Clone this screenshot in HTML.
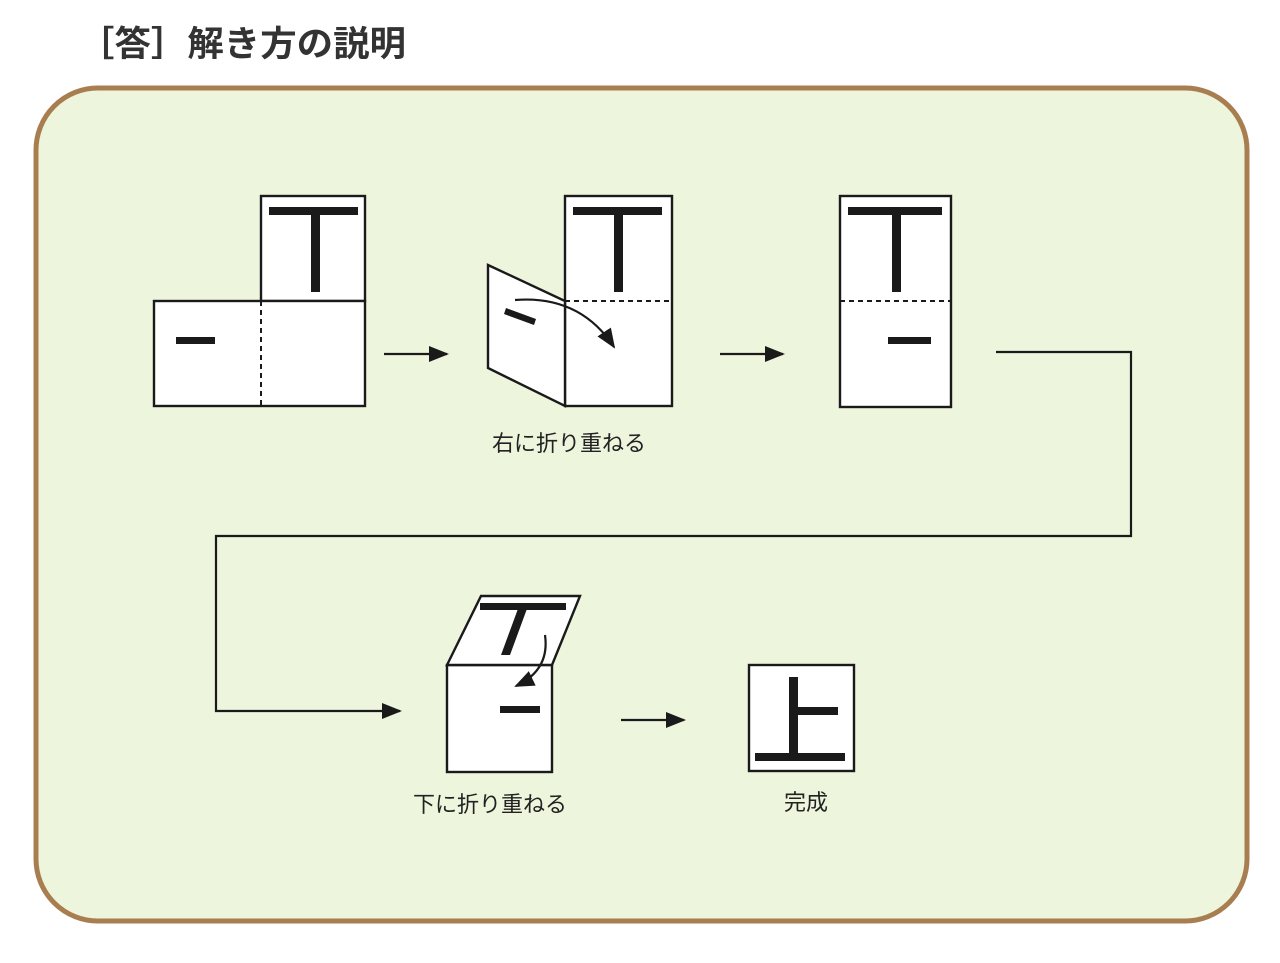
<!DOCTYPE html>
<html><head><meta charset="utf-8"><style>
html,body{margin:0;padding:0;background:#fff;}
svg{display:block}
text{font-family:"Liberation Sans","Noto Sans CJK JP",sans-serif;}
</style></head><body>
<svg width="1280" height="963" viewBox="0 0 1280 963" xmlns="http://www.w3.org/2000/svg">
<defs>
<marker id="ah2" markerWidth="20" markerHeight="20" refX="18" refY="10" orient="auto" markerUnits="userSpaceOnUse" viewBox="0 0 20 20">
<path d="M0,2 L20,10 L0,18 z" fill="#1a1a1a"/></marker>
</defs>
<text x="78" y="56" font-size="35" font-weight="bold" fill="#333" textLength="328" lengthAdjust="spacingAndGlyphs">［答］解き方の説明</text>
<rect x="36" y="88" width="1211" height="833" rx="62" fill="#eef5dd" stroke="#a87d4f" stroke-width="5"/>
<g stroke="#1a1a1a" stroke-width="2.4" fill="#fff">
<rect x="261" y="196" width="104" height="105"/>
<rect x="154" y="301" width="211" height="105"/>
<rect x="565" y="196" width="107" height="210"/>
<polygon points="488,265 565,301 565,406 488,368"/>
<rect x="840" y="196" width="111" height="211"/>
<rect x="447" y="665" width="105" height="107"/>
<polygon points="447,665 481,596 580,596 552,665"/>
<rect x="749" y="665" width="105" height="106"/>
</g>
<g stroke="#1a1a1a" stroke-width="2" stroke-dasharray="5,4" fill="none">
<line x1="261" y1="301" x2="261" y2="406"/>
<line x1="261" y1="301" x2="365" y2="301"/>
<line x1="565" y1="301" x2="672" y2="301"/>
<line x1="565" y1="301" x2="565" y2="406"/>
<line x1="840" y1="301" x2="951" y2="301"/>
<line x1="447" y1="665" x2="552" y2="665"/>
</g>
<g fill="#1a1a1a">
<rect x="269" y="207" width="89" height="8"/><rect x="311" y="207" width="9" height="85"/>
<rect x="176" y="337" width="39" height="7"/>
<rect x="573" y="207" width="89" height="8"/><rect x="614" y="207" width="9" height="85"/>
<rect x="848" y="207" width="94" height="8"/><rect x="892" y="207" width="9" height="85"/>
<rect x="888" y="337" width="43" height="7"/>
<rect x="500" y="706" width="40" height="7"/>
<polygon points="480,603 566,603 566,610 480,610"/>
<polygon points="519,606 528,606 510,655 501,655"/>
<rect x="755" y="753" width="90" height="8"/>
<rect x="789" y="677" width="9" height="80"/>
<rect x="793" y="707" width="45" height="8"/>
</g>
<polygon points="506,308 536,319 534,325 504,314" fill="#1a1a1a"/>
<g stroke="#1a1a1a" stroke-width="2.2" fill="none">
<path d="M515,300 Q580,295 614,347" marker-end="url(#ah2)"/>
<path d="M545,635 Q550,670 516,686" marker-end="url(#ah2)"/>
<line x1="384" y1="354" x2="447" y2="354" marker-end="url(#ah2)"/>
<line x1="720" y1="354" x2="783" y2="354" marker-end="url(#ah2)"/>
<line x1="621" y1="720" x2="684" y2="720" marker-end="url(#ah2)"/>
<polyline points="996,352 1131,352 1131,536 216,536 216,711 400,711" marker-end="url(#ah2)"/>
</g>
<g font-size="22" fill="#222" text-anchor="middle">
<text x="569" y="451">右に折り重ねる</text>
<text x="490" y="812">下に折り重ねる</text>
<text x="806" y="810">完成</text>
</g>
</svg>
</body></html>
